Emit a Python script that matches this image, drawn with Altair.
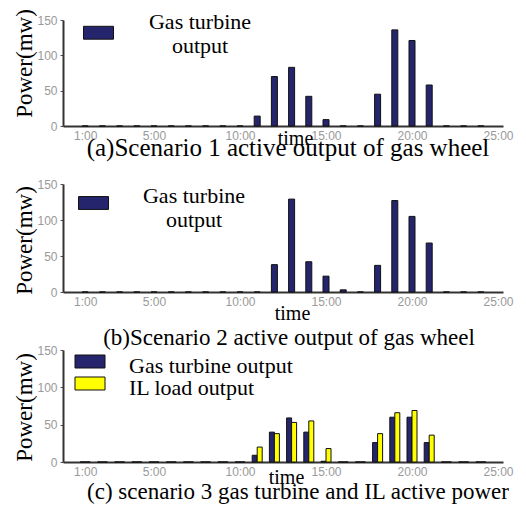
import altair as alt
import pandas as pd

HOURS = list(range(1, 25))
S1_GAS = [0, 0, 0, 0, 0, 0, 0, 0, 0, 0, 14, 70, 83, 42, 9, 0, 0, 45, 136, 121, 58, 0, 0, 0]
S2_GAS = [0, 0, 0, 0, 0, 0, 0, 0, 0, 0, 0, 38, 129, 42, 22, 3, 0, 37, 127, 105, 68, 0, 0, 0]
S3_GAS = [0, 0, 0, 0, 0, 0, 0, 0, 0, 0, 9, 40, 59, 40, 1, 0, 0, 26, 60, 60, 26, 0, 0, 0]
S3_IL = [0, 0, 0, 0, 0, 0, 0, 0, 0, 0, 20, 38, 53, 55, 18, 0, 0, 38, 66, 69, 36, 0, 0, 0]
X_TICKS = [1, 5, 10, 15, 20, 25]
Y_TICKS = [0, 50, 100, 150]
SERIES = ["Gas turbine output", "IL load output"]
COLORS = ["#25256e", "#ffff00"]
CAPTIONS = [
    "(a)Scenario 1 active output of gas wheel",
    "(b)Scenario 2 active output of gas wheel",
    "(c) scenario 3 gas turbine and IL active power",
]

SERIF = "Liberation Serif"
SANS = "Liberation Sans"
W = 440


def rect_path(dy, hw=1.0, hh=0.43):
    return "M-{0:.3f},{1:.3f}H{0:.3f}V{2:.3f}H-{0:.3f}Z".format(hw, dy - hh, dy + hh)


def x_enc(title_x, title_y):
    return alt.X(
        "hour:Q",
        scale=alt.Scale(domain=[0, 25], nice=False, zero=False),
        axis=alt.Axis(
            values=X_TICKS, labelExpr="datum.value + ':00'", grid=False,
            labelFont=SANS, labelFontSize=12, labelColor="#999999", labelPadding=4,
            ticks=False, domainColor="#333333", domainWidth=2,
            title="time", titleFont=SERIF, titleFontSize=20, titleFontWeight="normal",
            titleColor="black", titleX=title_x, titleY=title_y, titleBaseline="alphabetic",
        ),
    )


def y_enc(title_y):
    return alt.Y(
        "value:Q",
        scale=alt.Scale(domain=[0, 150], nice=False),
        axis=alt.Axis(
            values=Y_TICKS, grid=False,
            labelFont=SANS, labelFontSize=12, labelColor="#999999", labelPadding=3,
            tickSize=3, tickColor="#555555", domainColor="#333333", domainWidth=2,
            title="Power(mw)", titleFont=SERIF, titleFontSize=23, titleFontWeight="normal",
            titleColor="black", titleX=-32, titleY=title_y, titleBaseline="alphabetic",
            titleAlign="center",
        ),
    )


def caption(text, x, y, size):
    return alt.Chart(pd.DataFrame({"caption": [text]})).mark_text(
        font=SERIF, fontSize=size, align="center", baseline="alphabetic", color="black"
    ).encode(text="caption:N", x=alt.value(x), y=alt.value(y))


def single_panel(values, height, cap, cap_x, cap_y, cap_size, tx, ty, yty, leg_x, leg_y, dy, loff):
    df = pd.DataFrame({"hour": HOURS, "value": values, "series": SERIES[0]})
    bars = alt.Chart(df).mark_bar(size=6, stroke="#111111", strokeWidth=1).encode(
        x=x_enc(tx, ty),
        y=y_enc(yty),
        color=alt.Color(
            "series:N",
            scale=alt.Scale(domain=SERIES[:1], range=COLORS[:1]),
            legend=alt.Legend(
                title=None, orient="none", legendX=leg_x, legendY=leg_y, padding=0,
                symbolType=rect_path(dy), symbolSize=900, symbolStrokeColor="#111111",
                symbolStrokeWidth=1, symbolOpacity=1,
                labelFont=SERIF, labelFontSize=22, labelColor="black",
                labelAlign="center", labelOffset=loff, labelLimit=0,
                labelExpr="['Gas turbine', 'output']",
            ),
        ),
    )
    return alt.layer(bars, caption(cap, cap_x, cap_y, cap_size)).properties(width=W, height=height)


panel_a = single_panel(S1_GAS, 106, CAPTIONS[0], 225, 136, 25, 232, 18, 43, 20, -14, 0.75, 86)
panel_b = single_panel(S2_GAS, 108, CAPTIONS[1], 226, 161, 23, 229, 27, 56, 15, -4, 0.5, 85)

df_c = pd.DataFrame({
    "hour": HOURS * 2,
    "value": S3_GAS + S3_IL,
    "series": [SERIES[0]] * len(HOURS) + [SERIES[1]] * len(HOURS),
})
color_c = alt.Color(
    "series:N",
    scale=alt.Scale(domain=SERIES, range=COLORS),
    legend=alt.Legend(
        title=None, orient="none", legendX=16, legendY=5, padding=0, rowPadding=-8,
        symbolType=rect_path(-0.45, 1.5, 0.65), symbolSize=400, symbolStrokeColor="#111111",
        symbolStrokeWidth=1, symbolOpacity=1,
        labelFont=SERIF, labelFontSize=22, labelColor="black",
        labelAlign="left", labelOffset=28, labelLimit=0,
    ),
)
base_c = alt.Chart(df_c).encode(x=x_enc(223, 21), y=y_enc(57), color=color_c)
gas_c = base_c.transform_filter(alt.datum.series == SERIES[0]).mark_bar(
    size=5, xOffset=-2.5, stroke="#111111", strokeWidth=1)
il_c = base_c.transform_filter(alt.datum.series == SERIES[1]).mark_bar(
    size=5, xOffset=2.5, stroke="#111111", strokeWidth=1)
panel_c = alt.layer(gas_c, il_c, caption(CAPTIONS[2], 235, 149, 23)).properties(width=W, height=112)

chart = alt.vconcat(panel_a, panel_b, panel_c, spacing=58, bounds="flush").resolve_scale(
    color="independent"
).resolve_legend(color="independent").properties(
    autosize=alt.AutoSizeParams(type="none"),
    padding={"left": 63, "top": 20, "right": 23, "bottom": 500},
).configure_view(stroke=None)

chart.save("out.html", embed_options={"renderer": "svg", "actions": False})
